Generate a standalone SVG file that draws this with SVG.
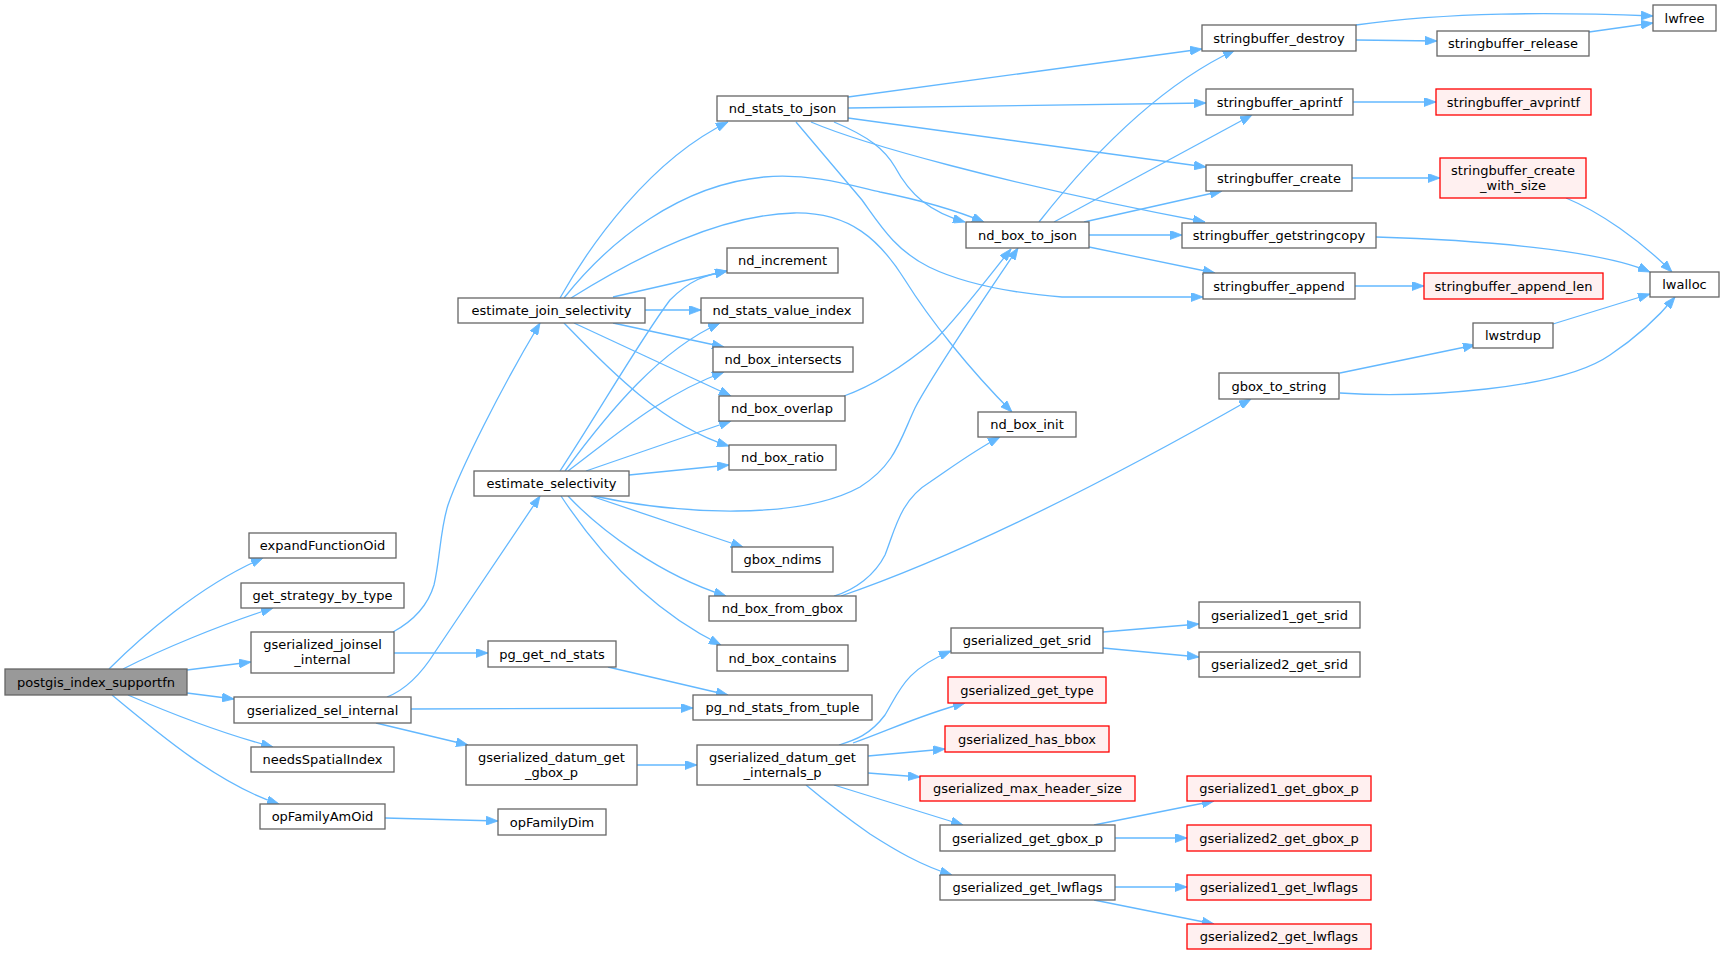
<svg xmlns="http://www.w3.org/2000/svg" width="1724" height="955" viewBox="0 0 1724 955">
<defs>
<marker id="a" viewBox="0 0 12 9" refX="12" refY="4.5" markerWidth="12" markerHeight="9" markerUnits="userSpaceOnUse" orient="auto">
<path d="M0,0 L12,4.5 L0,9 z" fill="#63b8ff" stroke="#63b8ff" stroke-width="0.8"/>
</marker>
</defs>
<style>
.n rect{fill:#fff;stroke:#666;stroke-width:1.3}
.r rect{fill:#fff0f0;stroke:#f00;stroke-width:1.3}
.root rect{fill:#999;stroke:#666;stroke-width:1.3}
text{font-family:"DejaVu Sans",sans-serif;font-size:13px;text-anchor:middle;fill:#000}
#edges path{fill:none;stroke:#63b8ff;stroke-width:1.3;marker-end:url(#a)}
</style>
<rect width="1724" height="955" fill="#fff"/>
<g id="edges">
<path d="M109,669 C140,638 200,585 263,558"/>
<path d="M123,669 C160,650 220,625 273,608"/>
<path d="M187,670 L251,662"/>
<path d="M187,693 L234,699"/>
<path d="M128,695 C165,711 220,733 273,747"/>
<path d="M112,695 C160,735 220,785 279,804"/>
<path d="M393,632 C415,620 428,605 434,585 C440,560 440,530 448,505 C460,470 500,390 540,323"/>
<path d="M394,653 L488,653"/>
<path d="M387,697 C410,688 425,668 435,652 L540,496"/>
<path d="M411,709 L693,708"/>
<path d="M376,723 L468,745"/>
<path d="M608,667 L728,695"/>
<path d="M637,765 L697,765"/>
<path d="M385,818 L498,821"/>
<path d="M560,298 C590,245 650,160 728,122"/>
<path d="M564,298 C610,240 680,185 764,177 C810,173 850,185 880,192 C920,200 955,210 984,222"/>
<path d="M571,298 C640,255 720,215 794,213 C850,212 880,240 905,280 C930,320 970,370 1012,412"/>
<path d="M613,297 L727,271"/>
<path d="M645,310 L701,310"/>
<path d="M613,323 L724,347"/>
<path d="M574,323 L731,396"/>
<path d="M564,323 C600,360 660,425 729,446"/>
<path d="M560,471 C600,410 640,340 670,300 C690,280 705,275 727,271"/>
<path d="M565,471 C610,410 660,350 720,323"/>
<path d="M568,471 C610,440 660,395 724,372"/>
<path d="M586,471 L731,421"/>
<path d="M629,475 L729,465"/>
<path d="M594,496 C680,515 800,520 860,487 C895,465 900,440 915,408 C935,370 990,290 1018,248"/>
<path d="M591,496 L743,547"/>
<path d="M568,496 C600,530 660,575 726,596"/>
<path d="M561,496 C590,540 640,605 721,645"/>
<path d="M848,97 L1202,49"/>
<path d="M848,108 L1206,103"/>
<path d="M848,118 L1206,167"/>
<path d="M834,122 C870,137 885,150 895,167 C910,195 930,212 965,222"/>
<path d="M811,122 C860,143 1000,183 1205,222"/>
<path d="M796,122 L862,200 C880,225 895,250 929,267 C960,282 1000,292 1062,297 L1203,297"/>
<path d="M1039,222 C1080,170 1150,90 1235,50"/>
<path d="M1054,222 L1252,115"/>
<path d="M1084,222 L1222,191"/>
<path d="M1089,235 L1182,235"/>
<path d="M1089,247 L1215,273"/>
<path d="M1356,40 L1437,41"/>
<path d="M1356,25 C1450,12 1550,12 1653,16"/>
<path d="M1589,32 L1653,23"/>
<path d="M1353,102 L1436,102"/>
<path d="M1352,178 L1440,178"/>
<path d="M1566,198 C1600,212 1640,240 1672,272"/>
<path d="M1376,237 C1480,240 1600,250 1650,272"/>
<path d="M1355,286 L1424,286"/>
<path d="M1340,373 L1475,345"/>
<path d="M1340,393 C1420,398 1560,390 1610,355 C1640,335 1660,315 1675,297"/>
<path d="M1553,324 L1650,294"/>
<path d="M844,396 C875,385 905,365 935,340 C960,315 990,275 1011,249"/>
<path d="M834,596 C855,590 875,575 885,555 C895,530 900,500 930,482 C955,465 975,450 1000,437"/>
<path d="M841,596 C960,555 1100,485 1251,399"/>
<path d="M839,745 C855,740 870,735 885,715 C900,690 905,670 951,651"/>
<path d="M853,743 C890,730 920,715 965,703"/>
<path d="M868,756 L945,749"/>
<path d="M868,773 L920,777"/>
<path d="M834,785 L963,825"/>
<path d="M806,785 C830,805 850,820 870,834 C895,850 920,865 952,875"/>
<path d="M1103,632 L1199,624"/>
<path d="M1103,648 L1199,657"/>
<path d="M1094,825 L1214,801"/>
<path d="M1115,838 L1187,838"/>
<path d="M1115,887 L1187,887"/>
<path d="M1094,900 L1214,924"/>
</g>
<g id="postgis_index_supportfn" class="root"><rect x="5" y="669" width="182" height="26"/><text x="96" y="686.5">postgis_index_supportfn</text></g>
<g id="expandFunctionOid" class="n"><rect x="249" y="533" width="147" height="25"/><text x="322.5" y="550">expandFunctionOid</text></g>
<g id="get_strategy_by_type" class="n"><rect x="241" y="583" width="163" height="25"/><text x="322.5" y="600">get_strategy_by_type</text></g>
<g id="gserialized_joinsel_internal" class="n"><rect x="251" y="632" width="143" height="41"/><text x="322.5" y="648.5">gserialized_joinsel</text><text x="322.5" y="663.5">_internal</text></g>
<g id="gserialized_sel_internal" class="n"><rect x="234" y="697" width="177" height="26"/><text x="322.5" y="714.5">gserialized_sel_internal</text></g>
<g id="needsSpatialIndex" class="n"><rect x="251" y="747" width="143" height="25"/><text x="322.5" y="764">needsSpatialIndex</text></g>
<g id="opFamilyAmOid" class="n"><rect x="260" y="804" width="125" height="25"/><text x="322.5" y="821">opFamilyAmOid</text></g>
<g id="estimate_join_selectivity" class="n"><rect x="458" y="298" width="187" height="25"/><text x="551.5" y="315">estimate_join_selectivity</text></g>
<g id="estimate_selectivity" class="n"><rect x="474" y="471" width="155" height="25"/><text x="551.5" y="488">estimate_selectivity</text></g>
<g id="pg_get_nd_stats" class="n"><rect x="488" y="641" width="128" height="26"/><text x="552" y="658.5">pg_get_nd_stats</text></g>
<g id="gserialized_datum_get_gbox_p" class="n"><rect x="466" y="745" width="171" height="40"/><text x="551.5" y="761.5">gserialized_datum_get</text><text x="551.5" y="776.5">_gbox_p</text></g>
<g id="opFamilyDim" class="n"><rect x="498" y="809" width="108" height="26"/><text x="552" y="826.5">opFamilyDim</text></g>
<g id="nd_stats_to_json" class="n"><rect x="717" y="96" width="131" height="25"/><text x="782.5" y="113">nd_stats_to_json</text></g>
<g id="nd_increment" class="n"><rect x="727" y="248" width="111" height="25"/><text x="782.5" y="265">nd_increment</text></g>
<g id="nd_stats_value_index" class="n"><rect x="701" y="298" width="162" height="25"/><text x="782" y="315">nd_stats_value_index</text></g>
<g id="nd_box_intersects" class="n"><rect x="713" y="347" width="140" height="25"/><text x="783" y="364">nd_box_intersects</text></g>
<g id="nd_box_overlap" class="n"><rect x="719" y="396" width="126" height="25"/><text x="782" y="413">nd_box_overlap</text></g>
<g id="nd_box_ratio" class="n"><rect x="729" y="445" width="107" height="25"/><text x="782.5" y="462">nd_box_ratio</text></g>
<g id="gbox_ndims" class="n"><rect x="732" y="547" width="101" height="25"/><text x="782.5" y="564">gbox_ndims</text></g>
<g id="nd_box_from_gbox" class="n"><rect x="709" y="596" width="147" height="25"/><text x="782.5" y="613">nd_box_from_gbox</text></g>
<g id="nd_box_contains" class="n"><rect x="717" y="645" width="131" height="26"/><text x="782.5" y="662.5">nd_box_contains</text></g>
<g id="pg_nd_stats_from_tuple" class="n"><rect x="693" y="695" width="179" height="25"/><text x="782.5" y="712">pg_nd_stats_from_tuple</text></g>
<g id="gserialized_datum_get_internals_p" class="n"><rect x="697" y="745" width="171" height="40"/><text x="782.5" y="761.5">gserialized_datum_get</text><text x="782.5" y="776.5">_internals_p</text></g>
<g id="nd_box_to_json" class="n"><rect x="966" y="222" width="123" height="26"/><text x="1027.5" y="239.5">nd_box_to_json</text></g>
<g id="nd_box_init" class="n"><rect x="978" y="412" width="98" height="25"/><text x="1027" y="429">nd_box_init</text></g>
<g id="gserialized_get_srid" class="n"><rect x="951" y="628" width="152" height="25"/><text x="1027" y="645">gserialized_get_srid</text></g>
<g id="gserialized_get_type" class="r"><rect x="948" y="677" width="158" height="26"/><text x="1027" y="694.5">gserialized_get_type</text></g>
<g id="gserialized_has_bbox" class="r"><rect x="945" y="726" width="164" height="26"/><text x="1027" y="743.5">gserialized_has_bbox</text></g>
<g id="gserialized_max_header_size" class="r"><rect x="920" y="776" width="215" height="25"/><text x="1027.5" y="793">gserialized_max_header_size</text></g>
<g id="gserialized_get_gbox_p" class="n"><rect x="940" y="825" width="175" height="26"/><text x="1027.5" y="842.5">gserialized_get_gbox_p</text></g>
<g id="gserialized_get_lwflags" class="n"><rect x="940" y="875" width="175" height="25"/><text x="1027.5" y="892">gserialized_get_lwflags</text></g>
<g id="stringbuffer_destroy" class="n"><rect x="1202" y="25" width="154" height="26"/><text x="1279" y="42.5">stringbuffer_destroy</text></g>
<g id="stringbuffer_aprintf" class="n"><rect x="1206" y="89" width="147" height="26"/><text x="1279.5" y="106.5">stringbuffer_aprintf</text></g>
<g id="stringbuffer_create" class="n"><rect x="1206" y="165" width="146" height="26"/><text x="1279" y="182.5">stringbuffer_create</text></g>
<g id="stringbuffer_getstringcopy" class="n"><rect x="1182" y="223" width="194" height="25"/><text x="1279" y="240">stringbuffer_getstringcopy</text></g>
<g id="stringbuffer_append" class="n"><rect x="1203" y="273" width="152" height="26"/><text x="1279" y="290.5">stringbuffer_append</text></g>
<g id="gbox_to_string" class="n"><rect x="1219" y="373" width="120" height="26"/><text x="1279" y="390.5">gbox_to_string</text></g>
<g id="gserialized1_get_srid" class="n"><rect x="1199" y="602" width="161" height="26"/><text x="1279.5" y="619.5">gserialized1_get_srid</text></g>
<g id="gserialized2_get_srid" class="n"><rect x="1199" y="652" width="161" height="25"/><text x="1279.5" y="669">gserialized2_get_srid</text></g>
<g id="gserialized1_get_gbox_p" class="r"><rect x="1187" y="776" width="184" height="25"/><text x="1279" y="793">gserialized1_get_gbox_p</text></g>
<g id="gserialized2_get_gbox_p" class="r"><rect x="1187" y="825" width="184" height="26"/><text x="1279" y="842.5">gserialized2_get_gbox_p</text></g>
<g id="gserialized1_get_lwflags" class="r"><rect x="1187" y="875" width="184" height="25"/><text x="1279" y="892">gserialized1_get_lwflags</text></g>
<g id="gserialized2_get_lwflags" class="r"><rect x="1187" y="924" width="184" height="25"/><text x="1279" y="941">gserialized2_get_lwflags</text></g>
<g id="stringbuffer_release" class="n"><rect x="1437" y="31" width="152" height="25"/><text x="1513" y="48">stringbuffer_release</text></g>
<g id="stringbuffer_avprintf" class="r"><rect x="1436" y="89" width="155" height="26"/><text x="1513.5" y="106.5">stringbuffer_avprintf</text></g>
<g id="stringbuffer_create_with_size" class="r"><rect x="1440" y="158" width="146" height="40"/><text x="1513" y="174.5">stringbuffer_create</text><text x="1513" y="189.5">_with_size</text></g>
<g id="stringbuffer_append_len" class="r"><rect x="1424" y="273" width="179" height="26"/><text x="1513.5" y="290.5">stringbuffer_append_len</text></g>
<g id="lwstrdup" class="n"><rect x="1473" y="323" width="80" height="25"/><text x="1513" y="340">lwstrdup</text></g>
<g id="lwfree" class="n"><rect x="1653" y="5" width="63" height="26"/><text x="1684.5" y="22.5">lwfree</text></g>
<g id="lwalloc" class="n"><rect x="1650" y="272" width="69" height="25"/><text x="1684.5" y="289">lwalloc</text></g>
</svg>
